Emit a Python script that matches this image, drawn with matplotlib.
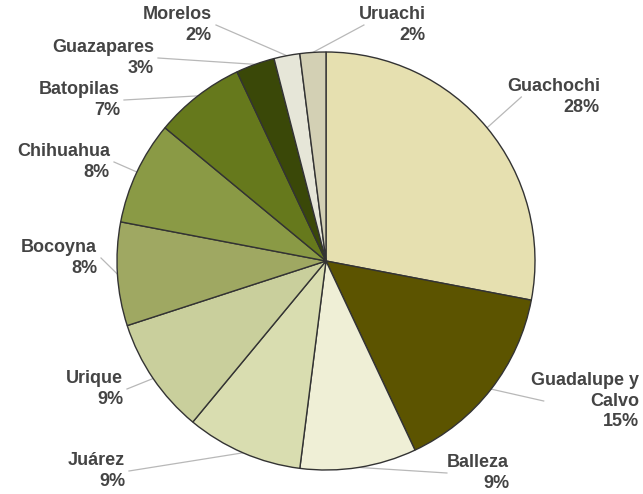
import numpy as np
import matplotlib.pyplot as plt

# Municipios y porcentajes (en sentido horario desde las 12)
municipios = ["Guachochi", "Guadalupe y\nCalvo", "Balleza", "Juárez", "Urique",
              "Bocoyna", "Chihuahua", "Batopilas", "Guazapares", "Morelos", "Uruachi"]
porcentajes = [28, 15, 9, 9, 9, 8, 8, 7, 3, 2, 2]
colores = ["#E6E0B0", "#5C5400", "#EFEFD6", "#D9DDB0", "#C9CF9C",
           "#9FA862", "#8A9A45", "#66791C", "#3A4808", "#E6E6D8", "#D3D0B4"]

# Posicion de cada etiqueta (pixeles, borde derecho del texto / centro vertical)
pos_etiquetas = [(600, 97), (639, 401), (509, 473), (125, 471), (123, 389),
                 (97, 258), (110, 162), (120, 100), (154, 58), (212, 25), (426, 25)]

W, H = 643, 494
fig = plt.figure(figsize=(W / 100, H / 100), dpi=100)
ax = fig.add_axes([0, 0, 1, 1])
ax.axis("off")

cx, cy, r = 326, H - 261, 209
wedges, _ = ax.pie(porcentajes, colors=colores, startangle=90, counterclock=False,
                   center=(cx, cy), radius=r,
                   wedgeprops=dict(edgecolor="#333333", linewidth=1.0))
ax.set_xlim(0, W)
ax.set_ylim(0, H)
ax.set_aspect("equal")

for w, nombre, pct, (tx, ty) in zip(wedges, municipios, porcentajes, pos_etiquetas):
    ang = np.deg2rad((w.theta1 + w.theta2) / 2)
    ex = cx + r * np.cos(ang)
    ey = cy + r * np.sin(ang)
    # punto de union de la linea guia con el texto
    if tx < cx:
        lx = tx + 4
    else:
        bw = 8.3 * max(len(s) for s in nombre.split("\n"))
        lx = tx - bw - 4
    ax.plot([lx, ex], [H - ty, ey], color="#B8B8B8", linewidth=0.9, zorder=0)
    ax.text(tx, H - ty, f"{nombre}\n{pct}%", ha="right", va="center",
            fontsize=13, fontweight="bold", color="#444444",
            family="Liberation Sans", linespacing=1.3)

plt.savefig("out.png", dpi=100)
